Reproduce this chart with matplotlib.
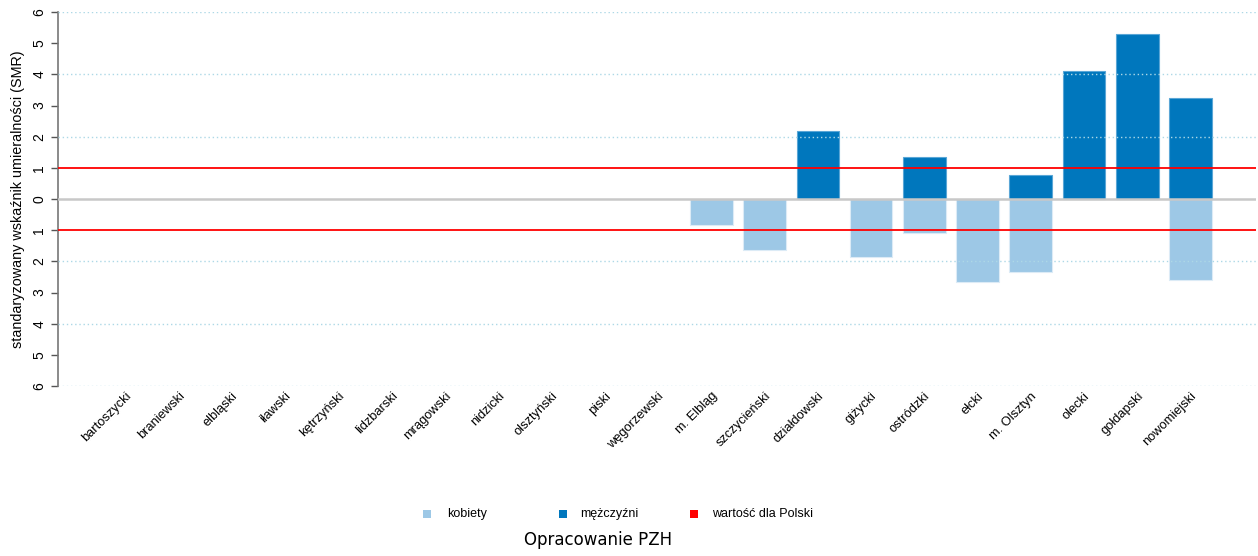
import numpy as np
import matplotlib.pyplot as plt
from matplotlib.patches import Rectangle
from matplotlib.transforms import ScaledTranslation

powiaty = ["bartoszycki", "braniewski", "elbląski", "iławski", "kętrzyński",
           "lidzbarski", "mrągowski", "nidzicki", "olsztyński", "piski",
           "węgorzewski", "m. Elbląg", "szczycieński", "działdowski", "giżycki",
           "ostródzki", "ełcki", "m. Olsztyn", "olecki", "gołdapski", "nowomiejski"]

# SMR, brak danych = nan
smr_kobiety = [np.nan] * 11 + [0.83, 1.65, np.nan, 1.86, 1.08, 2.67, 2.35, np.nan, np.nan, 2.61]
smr_mezczyzni = [np.nan] * 13 + [2.19, np.nan, 1.35, np.nan, 0.76, 4.10, 5.30, 3.25]
wartosc_polska = 1.0

ytick_vals = list(range(-6, 7))
ytick_labels = [str(abs(v)) for v in ytick_vals]

c_kob = "#9dc8e6"
c_mez = "#0077bd"

plt.rcParams['font.family'] = ['Liberation Sans', 'DejaVu Sans']

W, H = 1258, 556
fig = plt.figure(figsize=(W / 100, H / 100), dpi=100)
ax = fig.add_axes([58 / W, 1 - 386 / H, (1256 - 58) / W, (386 - 12) / H])

x = np.arange(len(powiaty))
kob = -np.array(smr_kobiety, dtype=float)
mez = np.array(smr_mezczyzni, dtype=float)

ax.bar(x, kob, width=0.8, color=c_kob, edgecolor="#dcebf6", linewidth=0.8, zorder=2)
ax.bar(x, mez, width=0.8, color=c_mez, edgecolor="#5aa6d6", linewidth=0.8, zorder=2)

# siatka co 2
for g in [-6, -4, -2, 2, 4, 6]:
    ax.axhline(g, color="#add8e6", linestyle=(0, (1, 2)), linewidth=1, zorder=3)
ax.axhline(0, color="#c8c8c8", linewidth=1.8, zorder=3)
ax.axhline(wartosc_polska, color="#ff0000", linewidth=1.3, zorder=4)
ax.axhline(-wartosc_polska, color="#ff0000", linewidth=1.3, zorder=4)

ax.set_xlim(-1.27, len(powiaty) - 1 + 1.23)
ax.set_ylim(-6, 6)
ax.set_yticks(ytick_vals)
ax.set_yticklabels(ytick_labels, rotation=90, va="center", fontsize=10)
ax.tick_params(axis="y", length=5, width=1, color="#555555", pad=3.5)
ax.set_ylabel("standaryzowany wskaźnik umieralności (SMR)", fontsize=10.4, labelpad=5)

ax.set_xticks(x)
ax.set_xticklabels(powiaty, rotation=45, ha="right", va="center",
                   rotation_mode="anchor", fontsize=9.3)
ax.tick_params(axis="x", length=0, pad=6)
przes = ScaledTranslation(4 / 100, 0, fig.dpi_scale_trans)
for lab in ax.get_xticklabels():
    lab.set_transform(lab.get_transform() + przes)

for s in ["top", "right", "bottom"]:
    ax.spines[s].set_visible(False)
ax.spines["left"].set_color("#777777")
ax.spines["left"].set_linewidth(1.2)

# legenda
items = [(427, 447, c_kob, "kobiety"),
         (563, 580, c_mez, "mężczyźni"),
         (694, 712, "#ff0000", "wartość dla Polski")]
ly = 514
for mx, tx, col, lab in items:
    fig.add_artist(Rectangle(((mx - 4) / W, 1 - (ly + 4) / H), 8 / W, 8 / H,
                             transform=fig.transFigure, color=col, lw=0))
    fig.text(tx / W, 1 - ly / H, lab, fontsize=9, va="center", ha="left")

fig.text(598 / W, 1 - 540 / H, "Opracowanie PZH", fontsize=12, ha="center",
         va="center", family="DejaVu Sans")

fig.savefig("out.png", dpi=100)
